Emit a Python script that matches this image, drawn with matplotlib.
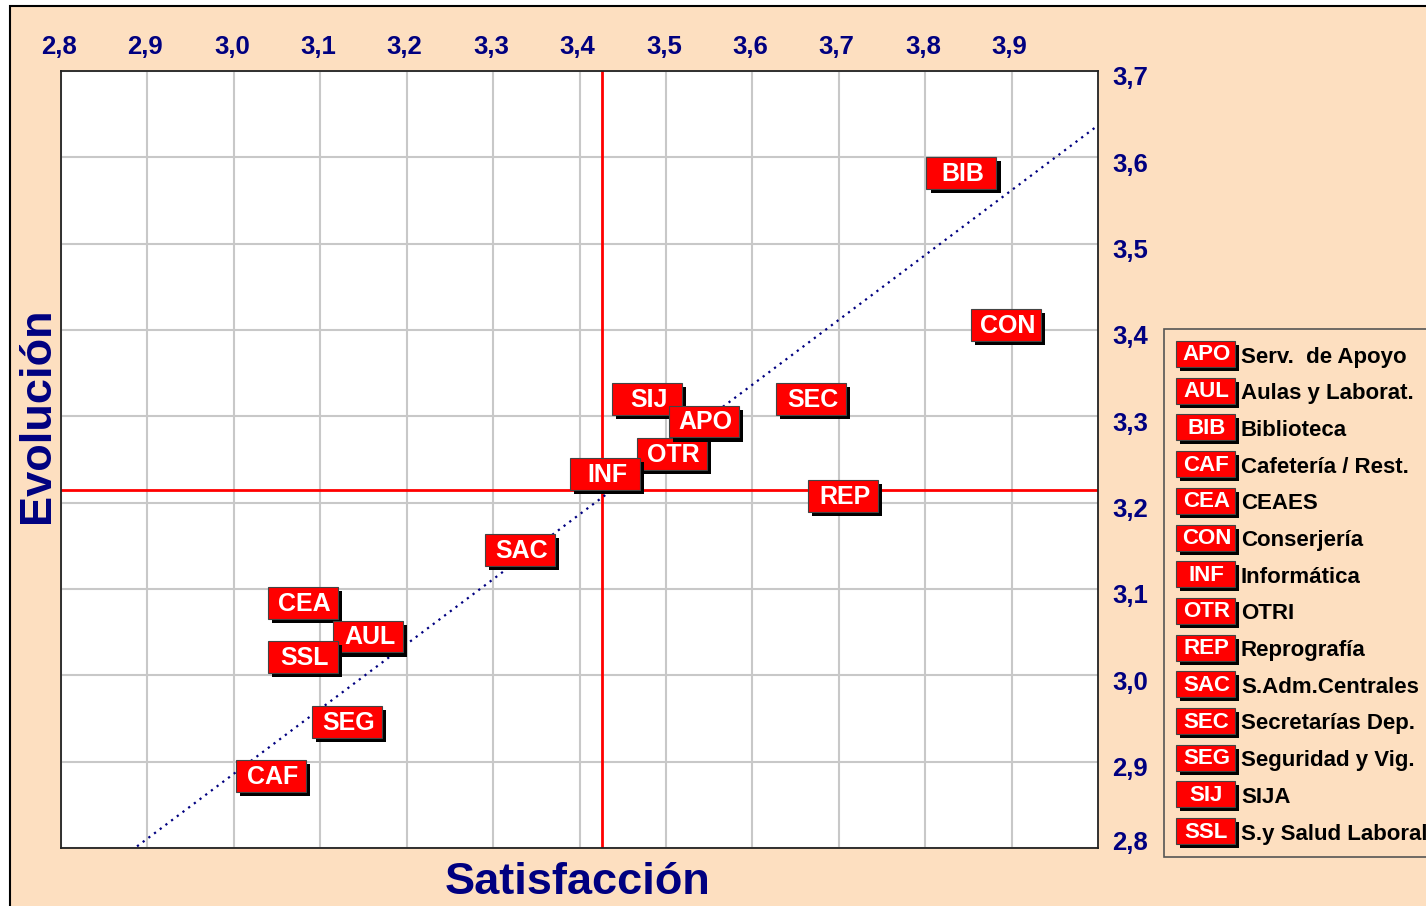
#!/usr/bin/env python3
# -*- coding: utf-8 -*-
"""
Satisfaccion vs Evolucion por servicio
"""
import matplotlib
matplotlib.use("Agg")
import matplotlib.pyplot as plt
from matplotlib.patches import Rectangle
from matplotlib.transforms import ScaledTranslation

plt.rc('font', family=['Liberation Sans', 'DejaVu Sans'], weight='bold')

# Data (drawing order matters for overlapping labels).
codes = ["BIB", "CON", "SEC", "SIJ", "OTR", "APO", "INF", "REP", "SAC",
         "CEA", "AUL", "SSL", "SEG", "CAF"]
satisfaccion = [3.842, 3.894, 3.668, 3.478, 3.507, 3.544, 3.430, 3.705, 3.331,
                3.080, 3.155, 3.080, 3.131, 3.043]
evolucion = [3.582, 3.406, 3.320, 3.320, 3.256, 3.294, 3.233, 3.208, 3.145,
             3.084, 3.045, 3.021, 2.946, 2.883]

legend_codes = ["APO", "AUL", "BIB", "CAF", "CEA", "CON", "INF", "OTR", "REP",
                "SAC", "SEC", "SEG", "SIJ", "SSL"]
legend_names = ["Serv.  de Apoyo", "Aulas y Laborat.", "Biblioteca",
                "Cafetería / Rest.", "CEAES", "Conserjería", "Informática",
                "OTRI", "Reprografía", "S.Adm.Centrales", "Secretarías Dep.",
                "Seguridad y Vig.", "SIJA", "S.y Salud Laboral"]

x_ticks = [2.8, 2.9, 3.0, 3.1, 3.2, 3.3, 3.4, 3.5, 3.6, 3.7, 3.8, 3.9]
y_ticks = [2.8, 2.9, 3.0, 3.1, 3.2, 3.3, 3.4, 3.5, 3.6, 3.7]
x_lim = (2.8, 4.0)
y_lim = (2.8, 3.7)

mean_x = 3.426
mean_y = 3.2145
trend_slope = 0.751
trend_intercept = 0.633

W, H = 1426, 906
PEACH = '#FDDFC0'
NAVY = '#000080'


def fx(px):
    return px / W


def fy(py):
    return 1 - py / H


fig = plt.figure(figsize=(W / 100, H / 100), dpi=100, facecolor='white')

# peach frame
fig.patches.append(Rectangle((fx(10), -0.02), 1.05, fy(6) + 0.02, transform=fig.transFigure,
                             facecolor=PEACH, edgecolor='black', lw=1.5, zorder=-5))

ax = fig.add_axes([fx(61), fy(848), fx(1098 - 61), (848 - 71) / H])
ax.set_zorder(1)
ax.set_facecolor('white')
ax.set_xlim(x_lim)
ax.set_ylim(y_lim)
ax.set_xticks(x_ticks)
ax.set_yticks(y_ticks)
ax.set_xticklabels([("%.1f" % v).replace('.', ',') for v in x_ticks])
ax.set_yticklabels([("%.1f" % v).replace('.', ',') for v in y_ticks])
ax.xaxis.tick_top()
ax.yaxis.tick_right()
ax.tick_params(axis='both', length=0, labelsize=18.5, labelcolor=NAVY)
ax.tick_params(axis='x', pad=9)
ax.tick_params(axis='y', pad=10)
for lbl in ax.get_xticklabels():
    lbl.set_fontweight('bold')
    lbl.set_transform(lbl.get_transform() + ScaledTranslation(-2 / 100, 0, fig.dpi_scale_trans))
ylbls = ax.get_yticklabels()
for i, lbl in enumerate(ylbls):
    lbl.set_fontweight('bold')
    shift = 7 if i == 0 else -5
    lbl.set_transform(lbl.get_transform() + ScaledTranslation(0, shift / 100, fig.dpi_scale_trans))
ax.grid(True, color='#C8C8C8', lw=1.5, zorder=0)
ax.set_axisbelow(True)
for s in ax.spines.values():
    s.set_color('#222222')
    s.set_linewidth(1.3)

# reference lines
ax.axvline(mean_x, color='#FF0000', lw=2, zorder=2)
ax.axhline(mean_y, color='#FF0000', lw=2, zorder=2)

# trend line
tx = [2.888, 4.0]
ax.plot(tx, [trend_slope * v + trend_intercept for v in tx], color=NAVY,
        linestyle=(0, (1, 2.2)), lw=1.6, zorder=3)

# labels as boxes
bw, bh = 0.081, 0.037
sx, sy = 0.0047, 0.0047
z = 5
for c, x, y in zip(codes, satisfaccion, evolucion):
    ax.add_patch(Rectangle((x - bw / 2 + sx, y - bh / 2 - sy), bw, bh,
                           facecolor='black', edgecolor='none', zorder=z))
    ax.add_patch(Rectangle((x - bw / 2, y - bh / 2), bw, bh,
                           facecolor='#FF0000', edgecolor='#444444', lw=0.8, zorder=z + 0.1))
    ax.text(x + 0.002, y - 0.001, c, color='white', fontsize=18, fontweight='bold',
            ha='center', va='center', zorder=z + 0.2)
    z += 1

# axis titles
fig.text(fx(578), fy(882), "Satisfacción", color=NAVY, fontsize=32.5,
         fontweight='bold', ha='center', va='center')
fig.text(fx(38), fy(415), "Evolución", color=NAVY, fontsize=32.5,
         fontweight='bold', ha='center', va='center', rotation=90)

# legend
fig.patches.append(Rectangle((fx(1164), fy(857)), 0.5, (857 - 329) / H, transform=fig.transFigure,
                             facecolor=PEACH, edgecolor='#555555', lw=1.2, zorder=1))
row0, dy = 354, 36.7
lw_px, lh_px = 59, 26
for i, (c, name) in enumerate(zip(legend_codes, legend_names)):
    cy = row0 + i * dy
    fig.patches.append(Rectangle((fx(1176 + 4), fy(cy + lh_px / 2 + 4)), lw_px / W, lh_px / H,
                                 transform=fig.transFigure, facecolor='black',
                                 edgecolor='none', zorder=2))
    fig.patches.append(Rectangle((fx(1176), fy(cy + lh_px / 2)), lw_px / W, lh_px / H,
                                 transform=fig.transFigure, facecolor='#FF0000',
                                 edgecolor='#444444', lw=0.8, zorder=3))
    fig.text(fx(1176 + lw_px / 2 + 1), fy(cy + 1), c, color='white', fontsize=16,
             fontweight='bold', ha='center', va='center', zorder=4)
    fig.text(fx(1241), fy(cy + 3), name, color='black', fontsize=16,
             fontweight='bold', ha='left', va='center', zorder=4)

plt.savefig('out.png', dpi=100, facecolor=fig.get_facecolor())
